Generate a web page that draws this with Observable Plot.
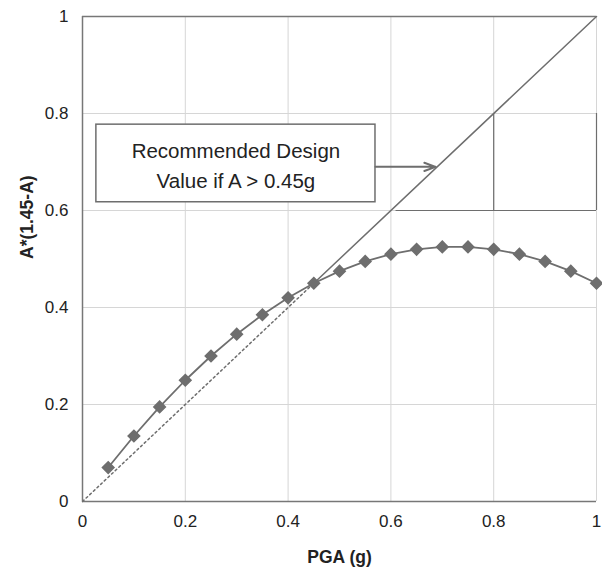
<!DOCTYPE html>
<html><head><meta charset="utf-8">
<script src="https://cdn.jsdelivr.net/npm/d3@7"></script>
<script src="https://cdn.jsdelivr.net/npm/@observablehq/plot@0.6"></script>
<style>body{margin:0;background:#fff;}</style>
</head><body><div id="chart"></div>
<script>
// Data
const pga = [0.05,0.10,0.15,0.20,0.25,0.30,0.35,0.40,0.45,0.50,0.55,0.60,0.65,0.70,0.75,0.80,0.85,0.90,0.95,1.00];
const demand = [0.07,0.135,0.195,0.25,0.30,0.345,0.385,0.42,0.45,0.475,0.495,0.51,0.52,0.525,0.525,0.52,0.51,0.495,0.475,0.45];
const xTicks = [0,0.2,0.4,0.6,0.8,1];
const yTicks = [0,0.2,0.4,0.6,0.8,1];
const xTickLabels = ["0","0.2","0.4","0.6","0.8","1"];
const yTickLabels = ["0","0.2","0.4","0.6","0.8","1"];
// 1:1 line: dotted part and solid (design) part
const dottedX = [0,0.45], dottedY = [0,0.45];
const solidX = [0.45,1], solidY = [0.45,1];
// bracket lines
const bracketV = [0.8,1];      // vertical ticks between y 0.6 and 0.8
const bracketY1 = 0.6, bracketY2 = 0.8;
const bracketH = {x1:0.61, x2:1, y:0.6};
// annotation
const noteLines = ["Recommended Design","Value if A > 0.45g"];
const noteBox = {x1:0.027, x2:0.57, y1:0.617, y2:0.777};
const noteArrow = {x1:0.57, x2:0.687, y:0.69};
const xLabel = "PGA (g)", yLabel = "A*(1.45-A)";

const pts = pga.map((x,i)=>({x, y:demand[i]}));
const grey = "#6e6e6e";

const chart = Plot.plot({
  width: 602, height: 573,
  marginLeft: 82, marginRight: 6, marginTop: 16, marginBottom: 72,
  style: {fontFamily: "Arial, 'Liberation Sans', sans-serif", fontSize: "16px", background: "#fff", color: "#222"},
  x: {domain: [0,1]},
  y: {domain: [0,1]},
  marks: [
    Plot.gridX(xTicks, {stroke: "#d6d6d6", strokeOpacity: 1}),
    Plot.gridY(yTicks, {stroke: "#d6d6d6", strokeOpacity: 1}),
    Plot.ruleY([1], {stroke: "#777", strokeWidth: 1.5}),
    Plot.ruleY([0], {stroke: "#777", strokeWidth: 1.5}),
    Plot.ruleX([0], {stroke: "#777", strokeWidth: 1.5}),
    Plot.axisX(xTicks, {tickSize: 0, tickPadding: 13, label: null, tickFormat: (d,i)=>xTickLabels[i], fontSize: 17}),
    Plot.axisY(yTicks, {tickSize: 0, tickPadding: 14, label: null, tickFormat: (d,i)=>yTickLabels[i], fontSize: 17}),
    Plot.text([xLabel], {frameAnchor: "bottom", dy: 61, fontWeight: "bold", fontSize: 17.5}),
    Plot.text([yLabel], {frameAnchor: "left", dx: -55, rotate: -90, fontWeight: "bold", fontSize: 17.5}),
    // bracket
    Plot.ruleX(bracketV, {y1: bracketY1, y2: bracketY2, stroke: grey, strokeWidth: 1.2}),
    Plot.ruleY([bracketH.y], {x1: bracketH.x1, x2: bracketH.x2, stroke: grey, strokeWidth: 1.2}),
    // 1:1 line
    Plot.line(dottedX.map((x,i)=>({x, y:dottedY[i]})), {x:"x", y:"y", stroke: grey, strokeWidth: 1.5, strokeDasharray: "2,3"}),
    Plot.line(solidX.map((x,i)=>({x, y:solidY[i]})), {x:"x", y:"y", stroke: grey, strokeWidth: 1.5}),
    // demand curve
    Plot.line(pts, {x:"x", y:"y", stroke: grey, strokeWidth: 1.8}),
    Plot.dot(pts, {x:"x", y:"y", symbol: "diamond2", r: 5.2, fill: grey, stroke: grey}),
    // annotation
    Plot.rect([noteBox], {x1:"x1", x2:"x2", y1:"y1", y2:"y2", fill: "#fff", stroke: grey, strokeWidth: 1.5}),
    Plot.arrow([noteArrow], {x1:"x1", x2:"x2", y1:"y", y2:"y", stroke: grey, strokeWidth: 2, headLength: 9, headAngle: 40}),
    Plot.text([noteLines.join("\n")], {x: (noteBox.x1+noteBox.x2)/2, y: (noteBox.y1+noteBox.y2)/2, fontSize: 20.5, lineHeight: 1.45, fill: "#222"})
  ]
});
document.getElementById("chart").appendChild(chart);
</script>
</body></html>
